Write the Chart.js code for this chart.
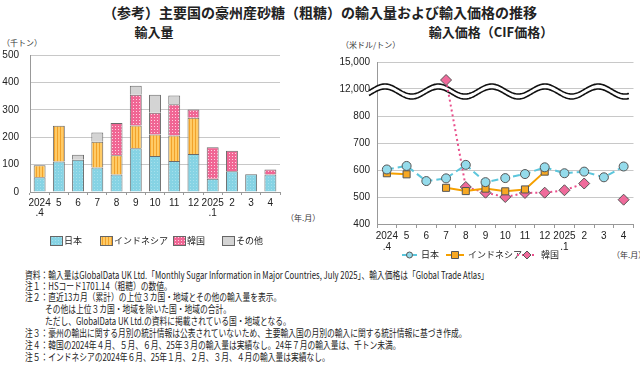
<!DOCTYPE html>
<html>
<head>
<meta charset="utf-8">
<script src="https://cdn.jsdelivr.net/npm/chart.js@4.4.1/dist/chart.umd.min.js"></script>
<style>
body{margin:0;width:640px;height:365px;background:#fff;position:relative;overflow:hidden;font-family:"Noto Sans CJK JP",sans-serif;color:#222}
.t{position:absolute;white-space:nowrap}
#title{left:0;width:640px;top:3px;text-align:center;font-size:14px;font-weight:bold;line-height:18px}
.sub{top:24px;font-size:13px;font-weight:bold;line-height:16px;transform:translateX(-50%)}
.unit{font-size:8px;line-height:10px;color:#333}
#cvVol{position:absolute;left:0;top:38px}
#cvPrice{position:absolute;left:320px;top:38px}
.note{left:25px;font-size:10px;line-height:12px;transform-origin:0 50%;transform:scaleX(0.775)}
</style>
</head>
<body>
<div class="t" id="title">（参考）主要国の豪州産砂糖（粗糖）の輸入量および輸入価格の推移</div>
<div class="t sub" style="left:154px">輸入量</div>
<div class="t sub" style="left:491px">輸入価格（CIF価格）</div>
<div class="t unit" style="left:2px;top:38px">（千トン）</div>
<div class="t unit" style="left:341px;top:40px">（米ドル/トン）</div>
<div class="t unit" style="left:286px;top:213px">（年.月）</div>
<div class="t unit" style="left:612px;top:250px">（年.月）</div>
<canvas id="cvVol" width="320" height="215"></canvas>
<canvas id="cvPrice" width="320" height="227"></canvas>

<div class="t note" style="top:269px">資料：輸入量はGlobalData UK Ltd.「Monthly Sugar Information in Major Countries, July 2025」、輸入価格は「Global Trade Atlas」</div>
<div class="t note" style="top:280px">注１：HSコード1701.14（粗糖）の数値。</div>
<div class="t note" style="top:291px">注２：直近13カ月（累計）の上位３カ国・地域とその他の輸入量を表示。</div>
<div class="t note" style="top:303px;left:45px">その他は上位３カ国・地域を除いた国・地域の合計。</div>
<div class="t note" style="top:315px;left:45px">ただし、GlobalData UK Ltd.の資料に掲載されている国・地域となる。</div>
<div class="t note" style="top:327px">注３：豪州の輸出に関する月別の統計情報は公表されていないため、主要輸入国の月別の輸入に関する統計情報に基づき作成。</div>
<div class="t note" style="top:339px">注４：韓国の2024年４月、５月、６月、25年３月の輸入量は実績なし。24年７月の輸入量は、千トン未満。</div>
<div class="t note" style="top:351px">注５：インドネシアの2024年６月、25年１月、２月、３月、４月の輸入量は実績なし。</div>

<script>
const months = [['2024', '.4'], '5', '6', '7', '8', '9', '10', '11', '12', ['2025', '.1'], '2', '3', '4'];

// 輸入量（千トン）
const volJapan = [54, 111, 118, 89, 64, 160, 131, 113, 139, 48, 76, 65, 64];
const volIndo = [44, 131, null, 94, 70, 83, 79, 93, 132, null, null, null, null];
const volKorea = [null, null, null, 0, 118, 112, 79, 114, 30, 115, 75, null, 18];
const volOther = [0, 0, 18, 34, 0, 33, 66, 32, 0, 0, 0, 0, 0];

// 輸入価格（米ドル/トン）
const priceJapan = [602, 615, 559, 569, 619, 555, 570, 585, 610, 588, 594, 573, 613];
const priceIndo = [588, 584, null, 534, 522, 531, 521, 528, 594, null, null, null, null];
const priceKorea = [null, null, null, 13000, 537, 516, 500, 515, 516, 525, 550, null, 490];
const priceTickLabels = ['400', '500', '600', '700', '800', '12,000', '15,000'];

const tickFont = { family: 'Liberation Sans, Arial, sans-serif', size: 10 };
const legendFont = '9px "Noto Sans CJK JP", sans-serif';

// broken axis: 400-800 linear, then 12,000 and 15,000 on the next two grid steps
function toAxis(v) {
    if (v === null) return null;
    return v <= 800 ? v : 900 + (v - 12000) / 30;
}

function makePattern(base, dot, kind) {
    const c = document.createElement('canvas');
    c.width = 3; c.height = 3;
    const g = c.getContext('2d');
    g.fillStyle = base;
    g.fillRect(0, 0, 3, 3);
    g.fillStyle = dot;
    if (kind === 'stripe') g.fillRect(0, 0, 1, 3);
    else g.fillRect(1, 1, 1, 1);
    return g.createPattern(c, 'repeat');
}

const ctxVol = document.getElementById('cvVol').getContext('2d');
const fillJapan = makePattern('#86d3e4', '#a6e0ec', 'dot');
const fillIndo = makePattern('#ffcb66', '#f2a22a', 'stripe');
const fillKorea = makePattern('#f06694', '#ffd2e2', 'dot');
const fillOther = '#d4d4d4';

const volLegend = {
    id: 'volLegend',
    afterDraw(chart) {
        const g = chart.ctx;
        const xs = [50, 100, 173, 222];
        g.save();
        g.font = legendFont;
        g.textBaseline = 'middle';
        chart.data.datasets.forEach((ds, i) => {
            g.fillStyle = ds.backgroundColor;
            g.fillRect(xs[i], 198, 12, 9);
            g.strokeStyle = '#666';
            g.lineWidth = 1;
            g.strokeRect(xs[i] + 0.5, 198.5, 12, 9);
            g.fillStyle = '#222';
            g.fillText(ds.label, xs[i] + 14, 203);
        });
        g.restore();
    }
};

new Chart(ctxVol, {
    type: 'bar',
    data: {
        labels: months,
        datasets: [
            { label: '日本', data: volJapan, backgroundColor: fillJapan },
            { label: 'インドネシア', data: volIndo, backgroundColor: fillIndo },
            { label: '韓国', data: volKorea, backgroundColor: fillKorea },
            { label: 'その他', data: volOther, backgroundColor: fillOther }
        ].map(d => Object.assign(d, { borderColor: '#6a6a6a', borderWidth: 1, barPercentage: 0.62, categoryPercentage: 1 }))
    },
    options: {
        responsive: false,
        animation: false,
        layout: { padding: { top: 15, right: 40, left: 0, bottom: 0 } },
        scales: {
            x: {
                stacked: true,
                afterFit: s => { s.height = 61; },
                grid: { offset: true, drawOnChartArea: false, tickLength: 3, color: '#999' },
                border: { color: '#999' },
                ticks: { color: '#222', font: Object.assign({ lineHeight: 1.0 }, tickFont), padding: 3, maxRotation: 0, autoSkip: false }
            },
            y: {
                stacked: true,
                min: 0, max: 500,
                afterFit: s => { s.width = 30; },
                grid: { color: '#c8c8c8', drawTicks: false },
                border: { color: '#999' },
                ticks: { stepSize: 100, color: '#222', font: tickFont, padding: 11 }
            }
        },
        plugins: { legend: { display: false }, tooltip: { enabled: false } }
    },
    plugins: [volLegend]
});

const ctxPrice = document.getElementById('cvPrice').getContext('2d');

const axisBreak = {
    id: 'axisBreak',
    beforeDatasetsDraw(chart) {
        const g = chart.ctx;
        const y0 = chart.scales.y.getPixelForValue(900);
        const left = chart.chartArea.left - 8, right = chart.chartArea.right - 4;
        const amp = 5, per = 53.3, phase = chart.chartArea.left + 8;
        const wave = (x, off) => y0 + off - amp * Math.cos(2 * Math.PI * (x - phase) / per);
        g.save();
        g.beginPath();
        for (let x = left; x <= right; x++) g.lineTo(x, wave(x, 0));
        for (let x = right; x >= left; x--) g.lineTo(x, wave(x, 5));
        g.closePath();
        g.fillStyle = '#fff';
        g.fill();
        g.lineWidth = 1.6;
        g.strokeStyle = '#111';
        [0, 5].forEach(off => {
            g.beginPath();
            for (let x = left; x <= right; x++) g.lineTo(x, wave(x, off));
            g.stroke();
        });
        g.restore();
    }
};

const priceLegend = {
    id: 'priceLegend',
    afterDraw(chart) {
        const g = chart.ctx;
        const items = [[82, 97], [126, 144], [197, 217]];
        g.save();
        g.font = legendFont;
        g.textBaseline = 'middle';
        chart.data.datasets.forEach((ds, i) => {
            const [x1, x2] = items[i];
            const y = 217;
            const cx = (x1 + x2) / 2;
            const r = ds.pointRadius - 1.5;
            g.strokeStyle = ds.borderColor;
            g.lineWidth = 2;
            g.setLineDash(ds.borderDash || []);
            g.beginPath(); g.moveTo(x1, y); g.lineTo(x2, y); g.stroke();
            g.setLineDash([]);
            g.fillStyle = ds.pointBackgroundColor;
            g.strokeStyle = '#555';
            g.lineWidth = 1;
            g.beginPath();
            if (ds.pointStyle === 'circle') g.arc(cx, y, r, 0, Math.PI * 2);
            else if (ds.pointStyle === 'rect') g.rect(cx - r, y - r, 2 * r, 2 * r);
            else { g.moveTo(cx, y - r); g.lineTo(cx + r, y); g.lineTo(cx, y + r); g.lineTo(cx - r, y); g.closePath(); }
            g.fill(); g.stroke();
            g.fillStyle = '#222';
            g.fillText(ds.label, x2 + 4, y);
        });
        g.restore();
    }
};

new Chart(ctxPrice, {
    type: 'line',
    data: {
        labels: months,
        datasets: [
            {
                label: '日本', data: priceJapan.map(toAxis),
                borderColor: '#5cc6dc', borderDash: [7, 4], borderWidth: 2,
                pointStyle: 'circle', pointRadius: 4.5, pointBackgroundColor: '#94dbeb'
            },
            {
                label: 'インドネシア', data: priceIndo.map(toAxis),
                borderColor: '#f5a000', borderWidth: 2,
                pointStyle: 'rect', pointRadius: 5, pointBackgroundColor: '#f7a823'
            },
            {
                label: '韓国', data: priceKorea.map(toAxis),
                borderColor: '#ea4f8c', borderDash: [2, 3], borderWidth: 2,
                pointStyle: 'rectRot', pointRadius: 5.5, pointBackgroundColor: '#ef6b9b'
            }
        ].map(d => Object.assign(d, { pointBorderColor: '#555', pointBorderWidth: 1, spanGaps: false, tension: 0 }))
    },
    options: {
        responsive: false,
        animation: false,
        layout: { padding: { top: 24, right: 5, left: 0, bottom: 0 } },
        scales: {
            x: {
                offset: true,
                afterFit: s => { s.height = 41; },
                grid: { offset: true, drawOnChartArea: false, tickLength: 4, color: '#999' },
                border: { color: '#999' },
                ticks: { color: '#222', font: Object.assign({ lineHeight: 1.15 }, tickFont), padding: 2, maxRotation: 0, autoSkip: false }
            },
            y: {
                min: 400, max: 1000,
                afterFit: s => { s.width = 57; },
                grid: { color: '#c8c8c8', drawTicks: false },
                border: { color: '#999' },
                ticks: {
                    stepSize: 100, color: '#222', font: tickFont, padding: 7,
                    callback: v => priceTickLabels[Math.round((v - 400) / 100)]
                }
            }
        },
        plugins: { legend: { display: false }, tooltip: { enabled: false } }
    },
    plugins: [axisBreak, priceLegend]
});
</script>
</body>
</html>
